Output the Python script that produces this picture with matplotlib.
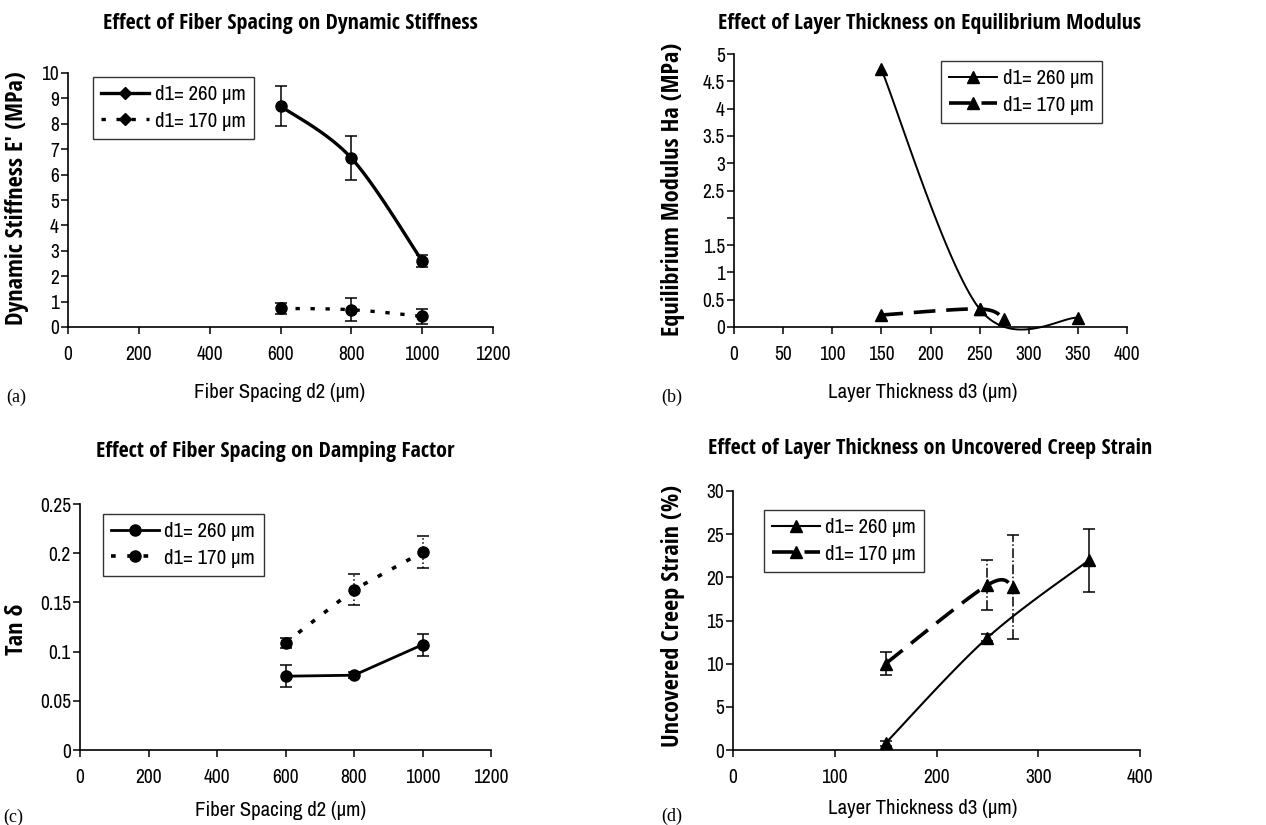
import numpy as np
import matplotlib
matplotlib.use('Agg')
import matplotlib.pyplot as plt
from matplotlib.lines import Line2D
from matplotlib.ticker import FixedLocator, FixedFormatter

SANS = ['Archivo Narrow', 'Roboto Condensed', 'Liberation Sans', 'DejaVu Sans']
BOLD = ['Open Sans Condensed', 'IBM Plex Sans Condensed', 'Liberation Sans', 'DejaVu Sans']
SERIF = ['Liberation Serif', 'DejaVu Serif']
plt.rcParams['font.family'] = SANS

# ---------------- data ----------------
# (a) dynamic stiffness
a_x = [600, 800, 1000]
a_260 = [8.7, 6.65, 2.6]
a_260_err = [0.77, 0.87, 0.23]
a_170 = [0.73, 0.68, 0.42]
a_170_err = [0.2, 0.46, 0.3]

# (b) equilibrium modulus
b_x260 = [150, 250, 350]
b_260 = [4.72, 0.33, 0.17]
b_x170 = [150, 250, 275]
b_170 = [0.22, 0.33, 0.14]
b_yticks = [0, 0.5, 1, 1.5, 2, 2.5, 3, 3.5, 4, 4.5, 5]
b_yticklabels = ['0', '0.5', '1', '1.5', '', '2.5', '3', '3.5', '4', '4.5', '5']

# (c) damping factor
c_x = [600, 800, 1000]
c_260 = [0.075, 0.076, 0.107]
c_260_err = [0.011, 0.003, 0.011]
c_170 = [0.109, 0.163, 0.201]
c_170_err = [0.005, 0.016, 0.016]
c_yticks = [0, 0.05, 0.1, 0.15, 0.2, 0.25]
c_yticklabels = ['0', '0.05', '0.1', '0.15', '0.2', '0.25']

# (d) uncovered creep strain
d_x260 = [150, 250, 350]
d_260 = [0.8, 13.0, 22.0]
d_260_err = [0.3, 0.4, 3.65]
d_x170 = [150, 250, 275]
d_170 = [10.0, 19.1, 18.9]
d_170_err = [1.3, 2.9, 6.0]

lab260 = 'd1= 260 \u00b5m'
lab170 = 'd1= 170 \u00b5m'

W, H = 1266, 825
fig = plt.figure(figsize=(W / 100, H / 100), dpi=100)

TICK_FS = 14
LEG_FS = 15


def px_axes(l, t, r, b):
    return fig.add_axes([l / W, 1 - b / H, (r - l) / W, (b - t) / H])


def ftext(x, y, s, **kw):
    fig.text(x / W, 1 - y / H, s, **kw)


def smooth_line(ax, x, y, n=60, **kw):
    """Excel-like smoothed line (Bezier, 1/6 tangents) through the data points."""
    pts = ax.transData.transform(np.column_stack([x, y]))
    m = len(pts)
    out = []
    t = np.linspace(0, 1, n)[:, None]
    for i in range(m - 1):
        p0 = pts[i]
        p3 = pts[i + 1]
        pm = pts[i - 1] if i > 0 else pts[i]
        pp = pts[i + 2] if i + 2 < m else pts[i + 1]
        c1 = p0 + (p3 - pm) / 6.0
        c2 = p3 - (pp - p0) / 6.0
        seg = ((1 - t) ** 3) * p0 + 3 * ((1 - t) ** 2) * t * c1 + 3 * (1 - t) * t ** 2 * c2 + t ** 3 * p3
        out.append(seg if i == 0 else seg[1:])
    out = np.vstack(out)
    data = ax.transData.inverted().transform(out)
    ax.plot(data[:, 0], data[:, 1], clip_on=False, **kw)


def style(ax):
    for s in ['top', 'right']:
        ax.spines[s].set_visible(False)
    for s in ['left', 'bottom']:
        ax.spines[s].set_linewidth(1.2)
        ax.spines[s].set_color('black')
    ax.tick_params(axis='both', direction='out', length=5, width=1.1, labelsize=TICK_FS, colors='black')
    ax.tick_params(axis='x', pad=8)
    ax.tick_params(axis='y', pad=1.5)


def errpts(ax, x, y, e, marker, ms, bar_ls='-'):
    res = ax.errorbar(x, y, yerr=e, fmt=marker, color='black', ms=ms, ecolor='black',
                      elinewidth=1.1, capsize=4.5, capthick=1.1, clip_on=False, zorder=3)
    res[2][0].set_linestyle(bar_ls)
    for c in res[1]:
        c.set_clip_on(False)
    res[2][0].set_clip_on(False)


def legend(ax, handles, labels, loc_xy):
    lg = ax.legend(handles, labels, loc='upper left', bbox_to_anchor=loc_xy, frameon=True,
                   fancybox=False, shadow=False, fontsize=LEG_FS, handlelength=2.3,
                   handletextpad=0.25, borderpad=0.4, labelspacing=0.35, borderaxespad=0)
    lg.get_frame().set_edgecolor('black')
    lg.get_frame().set_linewidth(1.0)


# ---------------- (a) ----------------
ax = px_axes(68, 73, 493, 327)
ax.set_xlim(0, 1200)
ax.set_ylim(0, 10)
ax.set_xticks(range(0, 1201, 200))
ax.set_yticks(range(0, 11))
style(ax)
smooth_line(ax, a_x, a_260, color='black', lw=2.4)
smooth_line(ax, a_x, a_170, color='black', lw=2.4, ls=(0, (1.3, 3.2)))
errpts(ax, a_x, a_260, a_260_err, 'o', 8)
errpts(ax, a_x, a_170, a_170_err, 'o', 8)
h1 = Line2D([], [], color='black', lw=2.4, marker='D', ms=6)
h2 = Line2D([], [], color='black', lw=2.4, ls=(0, (1.3, 3.2)), marker='D', ms=6)
legend(ax, [h1, h2], [lab260, lab170], (0.059, 0.984))

# ---------------- (b) ----------------
ax = px_axes(734, 54, 1127, 327)
ax.set_xlim(0, 400)
ax.set_ylim(0, 5)
ax.set_xticks(range(0, 401, 50))
ax.yaxis.set_major_locator(FixedLocator(b_yticks))
ax.yaxis.set_major_formatter(FixedFormatter(b_yticklabels))
style(ax)
smooth_line(ax, b_x260, b_260, color='black', lw=1.4)
smooth_line(ax, b_x170, b_170, color='black', lw=2.6, ls=(0, (6, 3)))
ax.plot(b_x260, b_260, ls='none', marker='^', color='black', ms=9, clip_on=False, zorder=3)
ax.plot(b_x170, b_170, ls='none', marker='^', color='black', ms=9, clip_on=False, zorder=3)
h1 = Line2D([], [], color='black', lw=1.4, marker='^', ms=9)
h2 = Line2D([], [], color='black', lw=2.6, ls=(0, (6, 3)), marker='^', ms=9)
legend(ax, [h1, h2], [lab260, lab170], (0.527, 0.974))

# ---------------- (c) ----------------
ax = px_axes(80, 504, 491, 750)
ax.set_xlim(0, 1200)
ax.set_ylim(0, 0.25)
ax.set_xticks(range(0, 1201, 200))
ax.yaxis.set_major_locator(FixedLocator(c_yticks))
ax.yaxis.set_major_formatter(FixedFormatter(c_yticklabels))
style(ax)
ax.plot(c_x, c_260, color='black', lw=2.0)
ax.plot(c_x, c_170, color='black', lw=2.6, ls=(0, (1.3, 3.2)))
errpts(ax, c_x, c_260, c_260_err, 'o', 8)
errpts(ax, c_x, c_170, c_170_err, 'o', 8, bar_ls=':')
h1 = Line2D([], [], color='black', lw=2.0, marker='o', ms=8)
h2 = Line2D([], [], color='black', lw=2.6, ls=(0, (1.3, 3.2)), marker='o', ms=8)
legend(ax, [h1, h2], [lab260, lab170], (0.056, 0.959))

# ---------------- (d) ----------------
ax = px_axes(733, 491, 1140, 750)
ax.set_xlim(0, 400)
ax.set_ylim(0, 30)
ax.set_xticks(range(0, 401, 100))
ax.set_yticks(range(0, 31, 5))
style(ax)
smooth_line(ax, d_x260, d_260, color='black', lw=1.5)
smooth_line(ax, d_x170, d_170, color='black', lw=2.6, ls=(0, (6, 3)))
errpts(ax, d_x260, d_260, d_260_err, '^', 9)
errpts(ax, d_x170, d_170, d_170_err, '^', 9, bar_ls='-.')
h1 = Line2D([], [], color='black', lw=1.5, marker='^', ms=9)
h2 = Line2D([], [], color='black', lw=2.6, ls=(0, (6, 3)), marker='^', ms=9)
legend(ax, [h1, h2], [lab260, lab170], (0.076, 0.927))

# ---------------- texts ----------------
tkw = dict(ha='center', va='center', fontsize=15.8, fontweight='bold', family=BOLD)
ftext(290, 23, 'Effect of Fiber Spacing on Dynamic Stiffness', **tkw)
ftext(930, 23, 'Effect of Layer Thickness on Equilibrium Modulus', **tkw)
ftext(275, 451, 'Effect of Fiber Spacing on Damping Factor', **tkw)
ftext(930, 449, 'Effect of Layer Thickness on Uncovered Creep Strain', **tkw)

xkw = dict(ha='center', va='center', fontsize=15)
ftext(280, 393, 'Fiber Spacing d2 (\u00b5m)', **xkw)
ftext(923, 393, 'Layer Thickness d3 (\u00b5m)', **xkw)
ftext(281, 810, 'Fiber Spacing d2 (\u00b5m)', **xkw)
ftext(923, 809, 'Layer Thickness d3 (\u00b5m)', **xkw)

ykw = dict(ha='center', va='center', fontsize=17.5, fontweight='bold', rotation=90, family=BOLD)
ftext(17, 198, 'Dynamic Stiffness E\u2032 (MPa)', **ykw)
ftext(673, 189, 'Equilibrium Modulus Ha (MPa)', **ykw)
ftext(17, 629, 'Tan \u03b4', **ykw)
ftext(673, 616, 'Uncovered Creep Strain (%)', **ykw)

pkw = dict(ha='left', va='center', fontsize=13, family=SERIF)
ftext(6, 397, '(a)', **pkw)
ftext(661, 397, '(b)', **pkw)
ftext(3, 817, '(c)', **pkw)
ftext(661, 816, '(d)', **pkw)

fig.savefig('out.png', dpi=100)
